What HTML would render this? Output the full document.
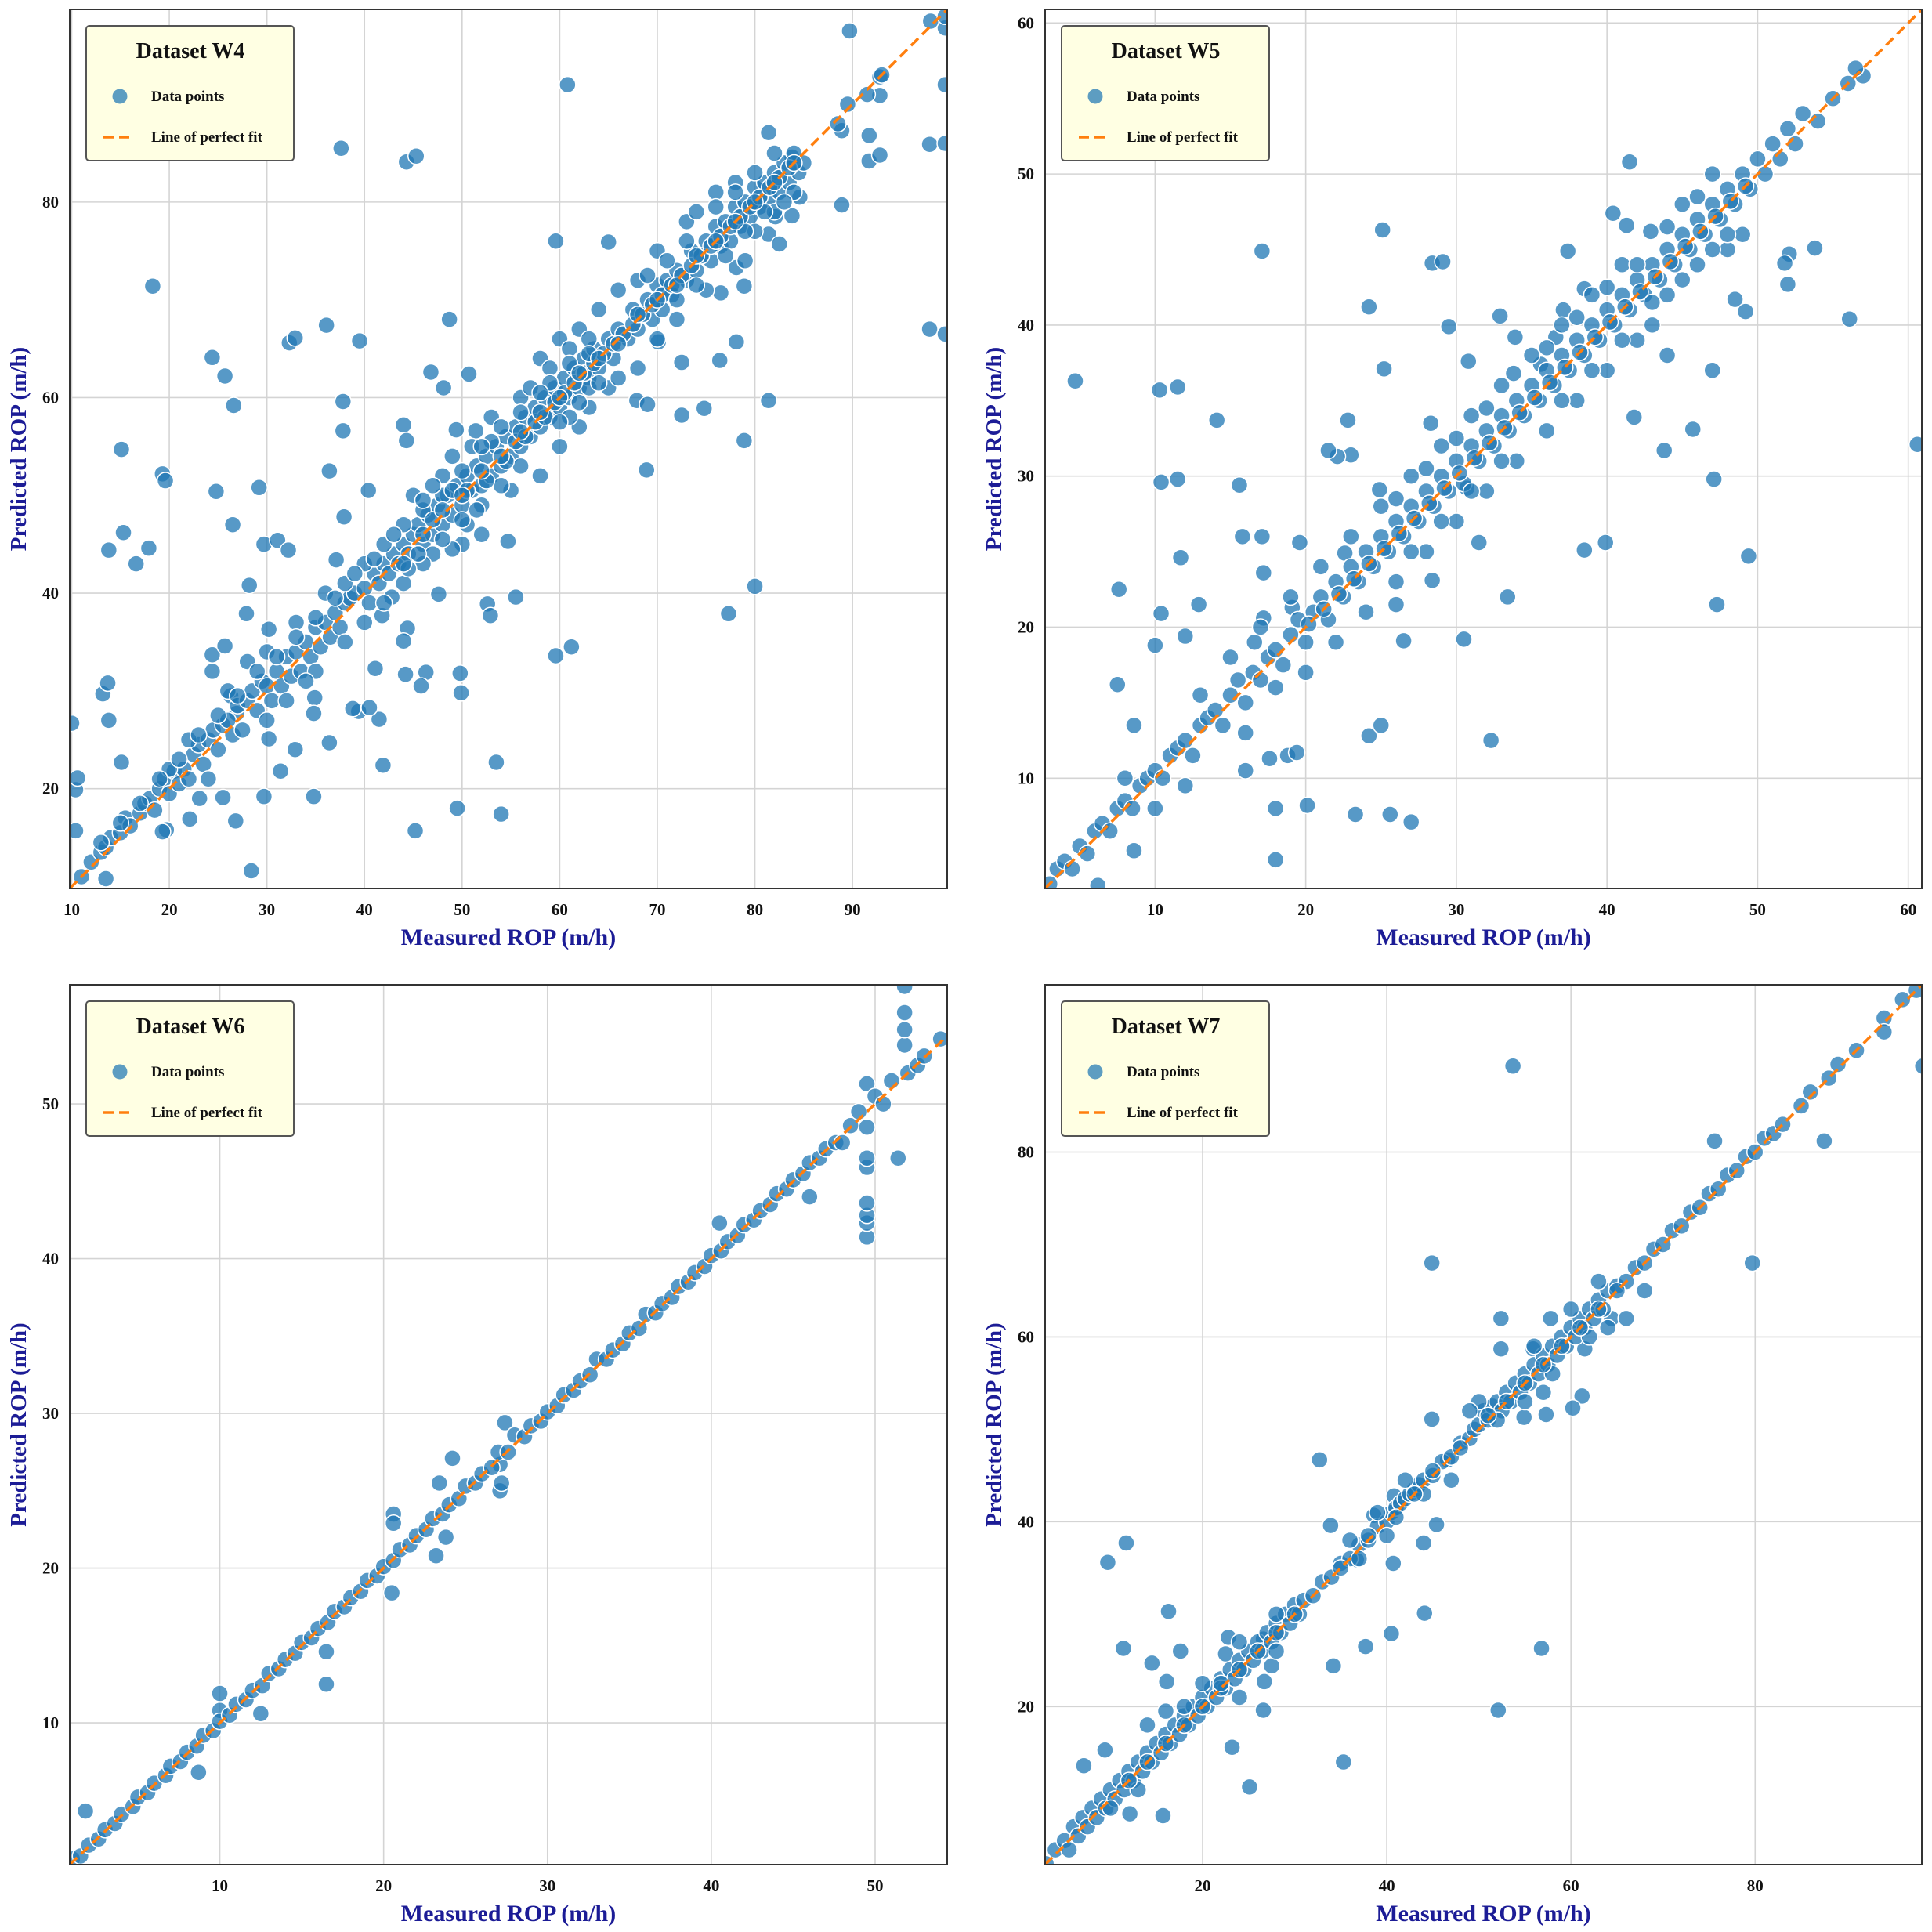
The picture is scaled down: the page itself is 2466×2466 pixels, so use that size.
<!DOCTYPE html>
<html><head><meta charset="utf-8"><style>
html,body{margin:0;padding:0;background:#fff}
svg{display:block}
text{font-family:"Liberation Serif",serif;font-weight:bold}
</style></head><body>
<svg id="fig" width="2466" height="2466" viewBox="0 0 2466 2466" xmlns="http://www.w3.org/2000/svg"></svg>
<script>
// ---------- Data ----------
const w4Range = [9.8, 99.7, 9.8, 99.7];
const w4XTicks = [10,20,30,40,50,60,70,80,90];
const w4YTicks = [20,40,60,80];
const w4Points = [
[89.7,97.5],[60.8,92.0],[37.6,85.5],[44.3,84.1],[45.3,84.7],[88.9,79.7],[97.9,85.9],[99.5,86],[97.9,67],[99.5,66.5],[99.5,92],[99.5,97.8],
[91.7,86.8],[91.7,84.2],[92.8,84.8],[92.8,92.8],[92.8,90.9],[88.9,87.3],[18.3,71.4],[24.4,64.1],[25.7,62.2],[26.6,59.2],[32.3,65.6],[32.9,66.1],
[36.1,67.4],[39.5,65.8],[59.6,76],[65,75.9],[48.7,68],[46.8,62.6],[48.1,61],[50.7,62.4],[15.1,54.7],[19.3,52.2],[19.6,51.5],[24.8,50.4],[26.5,47],
[29.2,50.8],[37.8,59.6],[37.8,56.6],[36.4,52.5],[40.4,50.5],[44,57.2],[44.3,55.6],[49.4,56.7],[51.4,56.6],[15.3,46.2],[13.8,44.4],[16.6,43],[17.9,44.6],
[29.7,45],[31.1,45.4],[32.2,44.4],[37.1,43.4],[37.9,47.8],[54.7,45.3],[55.5,39.6],[47.6,39.9],[80,40.7],[77.3,37.9],[78.9,55.6],[81.4,59.7],
[74.8,58.9],[72.5,63.6],[76.4,63.8],[78.1,65.7],[68.9,52.6],[67.9,59.7],[69,59.3],[59.6,33.6],[61.2,34.5],[52.6,38.9],[52.9,37.7],[53.5,22.7],
[49.5,18],[54,17.4],[45.2,15.7],[44.2,31.7],[46.3,31.9],[45.8,30.5],[49.8,31.8],[49.9,29.8],[44.4,36.4],[44,35.1],[41.1,32.3],[41.5,27.1],[41.9,22.4],
[36.4,24.7],[34.9,29.3],[32.9,24],[31.4,21.8],[34.8,27.7],[30.2,36.3],[30.2,25.1],[29.7,19.2],[28.4,11.6],[34.8,19.2],[25.5,19.1],[26.8,16.7],
[22.1,16.9],[23.1,19],[19.7,15.8],[19.3,15.6],[13.2,29.7],[13.7,30.8],[13.8,27],[10.4,15.7],[10.4,19.9],[10.6,21.1],[10,26.7],[13.5,10.8],[15.1,22.7],
[24.4,33.7],[25.7,34.6],[24.4,32],[28.2,40.8],[27.9,37.9],[26.3,29.5],[26.9,27.7],[39.4,27.9],[38.8,28.2],[40.5,28.3],[41.8,37.7],[42.8,39.6],
[81.4,76.7],[82.1,78.5],[83.8,78.6],[83.8,84.6],[81.4,87.1],[84.6,80.5],[82.5,75.7],[78.1,73.3],[78.9,71.4],[76.5,70.7],[72.5,58.2],[70.1,65.7],
[11,11],[12,12.5],[13,13.5],[13.5,14],[14,15],[15,15.5],[15.5,17],[16,16.2],[17,17.5],[17.5,18.5],[18,19],[18.5,17.8],[19,20],[19.5,21],[20,19.5],[20.5,21.8],
[21,20.5],[21.5,22],[22,21],[22.5,23.5],[23,24.5],[23.5,22.5],[24,25],[24.5,26],[25,24],[25.5,26.5],[26,27],[26.5,25.5],[27,28.5],[27.5,26],[28,29],[28.5,30],
[29,28],[29.5,31],[30,30.5],[30.5,29],[31,32],[31.5,30.5],[32,33.5],[32.5,31.5],[33,34],[33.5,32],[34,35],[34.5,33.5],[35,36.5],[35.5,34.5],[36,37],[36.5,35.5],
[37,38],[37.5,36.5],[38,39],[38.5,39.5],[39,40],[40,40.5],[40.5,39],[41,42],[41.5,41],[42,43],[42.5,42],[43,44],[43.5,43],[44,45],[44.5,44],[45,46],[45.5,47],
[46,45],[46.5,48],[47,46],[47.5,49],[48,47],[48.5,50],[49,48],[49.5,51],[50,49],[50.5,52],[51,50.5],[51.5,53],[52,51],[52.5,54],[53,52],[53.5,55],[54,53],
[54.5,56],[55,54],[55.5,57],[56,55],[56.5,58],[57,56],[57.5,59],[58,57],[58.5,60],[59,58],[59.5,61],[60,59],[60.5,62],[61,60],[61.5,63],[62,61],[62.5,64],
[63,62],[63.5,65],[64,63],[65,66],[65.5,64],[66,67],[67,66],[67.5,69],[68,67],[69,70],[69.5,68],[70,71.5],[70.5,69],[71,72],[71.5,70.5],[72,73],[73,72],
[73.5,75],[74,73],[75,76],[75.5,74],[76,77.5],[76.5,75.5],[77,78],[77.5,76],[78,79.5],[78.5,77.5],[79,80],[79.5,78.5],[80,81.5],[80.5,79.5],[81,82],
[81.5,80.5],[82,83],[82.5,81],[83,84],[83.5,82],[84,85],[84.5,83],[85,84],[88.5,88],[89.5,90],[91.5,91],[93,93],[98,98.5],[99.5,99],
[45,50],[47,44],[48,52],[50,45],[50.5,47],[52,46],[49,44.5],[46,43],[55,50.5],[58,52],[60,55],[62,57],[63,59],[58,64],[60,66],[62,67],[65,61],[66,62],
[68,63],[70,66],[72,68],[70,75],[73,78],[76,81],[78,82],[80,77],[82,79],[84,81],[79,74],[75,71],[35,32],[33,37],[28,33],[26,30],[30,27],[38,35],[40,37],
[42,39],[44,41],[53,58],[56,60],[64,69],[66,71],[68,72],[74,79],[20,22],[24,21],[22,25],[52,49],[54,51],[56,53],[61,58],[63,61],[57,61],[59,63],[61,65],
[63,66],[48,50],[51,55],[54,57],[47,51],[49,54],[44,47],[40,43],[42,45],[36,40],[38,41],[30,34],[32,29],[34,31],
[44.5,42.5],[45.5,44],[46,48.5],[47,47.5],[48,45.5],[49,50.5],[50,47.5],[50.5,50.5],[51.5,48.5],[52.5,51.5],[53,55.5],[54.5,53.5],[55.5,55.5],
[56.5,56],[57.5,57.5],[58.5,58],[59.5,59.5],[60.5,60.5],[61.5,61.5],[62.5,62.5],[63.5,63.5],[64.5,64.5],[65.5,65.5],[66.5,66.5],[67.5,67.5],
[68.5,68.5],[69.5,69.5],[70.5,70.5],[71.5,71.5],[72.5,72.5],[73.5,73.5],[74.5,74.5],[75.5,75.5],[76.5,76.5],[77.5,77.5],[78.5,78.5],[79.5,79.5],
[80.5,80.5],[81.5,81.5],[82.5,82.5],[83.5,83.5],[59,61.5],[61,63.5],[63,64.5],[60,57.5],[62,59.5],[64,61.5],[69,72.5],[71,74],[73,76],[72,70],
[74,71.5],[77,74.5],[79,77],[81,79],[83,80],[76,79.5],[78,81],[80,83],[82,85],[56,58.5],[58,60.5],[52,55],[50,52.5],[46,49.5],[43,46],[41,43.5],
[39,42],[37,39.5],[35,37.5],[33,35.5],[31,33.5],[29,32],[27,29.5],[25,27.5],[23,25.5],[21,23],[19,21],[17,18.5],[15,16.5],[13,14.5],
[44,43],[46,46],[48,48.5],[50,50],[52,52.5],[54,54],[56,56.5],[58,58.5],[60,60],[62,62.5],[64,64],[66,65.5],[68,68.5],[70,70],[72,71.5],[74,74.5],[76,76],
[78,78],[80,80],[82,82],[84,84]
];

const w5Range = [2.7, 60.9, 2.7, 60.9];
const w5XTicks = [10,20,30,40,50,60];
const w5YTicks = [10,20,30,40,50,60];
const w5Points = [
[25.1,46.3],[17.1,44.9],[28.4,44.1],[29.1,44.2],[37.4,44.9],[40.4,47.4],[41.3,46.6],[42.9,46.2],[41.5,50.8],[4.7,36.3],[10.3,35.7],[11.5,35.9],
[14.1,33.7],[23,31.4],[24.9,29.1],[22.8,33.7],[24.2,41.2],[25.2,37.1],[28.3,33.5],[29.5,39.9],[30.8,37.6],[32.9,40.6],[33.9,39.2],[36.6,39.2],
[22.1,31.3],[21.5,31.7],[10.4,29.6],[11.5,29.8],[15.6,29.4],[22.6,24.9],[31.5,25.6],[38.5,25.1],[39.9,25.6],[47.1,29.8],[49.4,24.7],[47.3,21.5],
[56.1,40.4],[53.8,45.1],[52.1,44.7],[60.6,32.1],[41.8,33.9],[43.8,31.7],[45.7,33.1],[48.5,41.7],[49.2,40.9],[7.6,22.5],[10,18.8],[10.4,20.9],
[11.7,24.6],[12,19.4],[12.9,21.5],[7.5,16.2],[8.6,13.5],[8.6,5.2],[6.2,2.9],[16,10.5],[17.6,11.3],[18,4.6],[18.8,11.5],[18,8],[20.1,8.2],[19.4,11.7],
[23.3,7.6],[25.6,7.6],[27,7.1],[24.2,12.8],[25,13.5],[26.5,19.1],[32.3,12.5],[30.5,19.2],[33.4,22],[26,21.5],[28.4,23.1],[16.6,19],[17.2,20.6],
[19.1,21.3],[17.1,26],[19.6,25.6],[15.8,26],[17.2,23.6],[30.7,29.2],[33.8,36.8],[35.6,37.4],[38.5,42.4],[37.1,41],[51.8,44.1],[52,42.7],
[3,3],[3.5,4],[4,4.5],[4.5,4],[5,5.5],[5.5,5],[6,6.5],[6.5,7],[7,6.5],[7.5,8],[8,8.5],[8.5,8],[9,9.5],[9.5,10],[10,10.5],[10.5,10],[11,11.5],[11.5,12],
[12,12.5],[12.5,11.5],[13,13.5],[13.5,14],[14,14.5],[14.5,13.5],[15,15.5],[15.5,16.5],[16,15],[16.5,17],[17,16.5],[17.5,18],[18,18.5],[18.5,17.5],
[19,19.5],[19.5,20.5],[20,19],[20.5,21],[21,22],[21.5,20.5],[22,23],[22.5,22],[23,24],[23.5,23],[24,25],[24.5,24],[25,26],[25.5,25],[26,27],[26.5,26],
[27,28],[27.5,27],[28,29],[28.5,28],[29,30],[29.5,29],[30,31],[30.5,29.5],[31,32],[31.5,31],[32,33],[32.5,32],[33,34],[33.5,33],[34,35],[34.5,34],
[35,36],[35.5,35],[36,37],[36.5,36],[37,38],[37.5,37],[38,39],[38.5,38],[39,40],[39.5,39],[40,41],[40.5,40],[41,42],[41.5,41],[42,43],[42.5,42],
[43,44],[43.5,43],[44,45],[44.5,44],[45,46],[45.5,45],[46,47],[46.5,46],[47,48],[47.5,47],[48,49],[48.5,48],[49,50],[49.5,49],[50,51],[50.5,50],
[51,52],[51.5,51],[52,53],[52.5,52],[53,54],[54,53.5],[55,55],[56,56],[57,56.5],[56.5,57],
[20,17],[22,19],[24,21],[26,23],[28,25],[25,28],[27,30],[29,32],[31,34],[30,27],[32,29],[34,31],[36,33],[35,38],[37,40],[39,42],[41,44],[40,37],
[42,39],[44,42],[46,44],[45,48],[47,50],[48,45],[49,46],[33,36],[38,35],[43,40],[15,18],[17,20],[19,22],[13,15.5],[16,13],[18,16],[10,8],[8,10],
[12,9.5],[21,24],[23,26],[48,46],[44,38],[47,37],
[20.2,20.2],[21.2,21.2],[22.2,22.2],[23.2,23.2],[24.2,24.2],[25.2,25.2],[26.2,26.2],[27.2,27.2],[28.2,28.2],[29.2,29.2],[30.2,30.2],[31.2,31.2],
[32.2,32.2],[33.2,33.2],[34.2,34.2],[35.2,35.2],[36.2,36.2],[37.2,37.2],[38.2,38.2],[39.2,39.2],[40.2,40.2],[41.2,41.2],[42.2,42.2],[43.2,43.2],
[44.2,44.2],[45.2,45.2],[46.2,46.2],[47.2,47.2],[48.2,48.2],[49.2,49.2],[36,38.5],[38,40.5],[40,42.5],[42,44],[44,46.5],[46,48.5],[37,35],[39,37],
[41,39],[43,41.5],[45,43],[47,45],[26,28.5],[28,30.5],[30,32.5],[32,34.5],[27,25],[29,27],[31,29],[33,31]
];

const w6Range = [0.84, 54.4, 0.84, 57.7];
const w6XTicks = [10,20,30,40,50];
const w6YTicks = [10,20,30,40,50];
const w6Points = [
[1.8,4.3],[10,11.9],[10,10.8],[8.7,6.8],[12.5,10.6],[16.5,12.5],[16.5,14.6],[20.6,23.5],[20.6,22.9],[20.5,18.4],[23.4,25.5],[24.2,27.1],[23.8,22],
[23.2,20.8],[27.4,29.4],[27.1,25],[27.2,25.5],[27.1,26.7],[40.5,42.3],[46,44],[49.5,41.4],[49.5,42.3],[49.5,42.8],[49.5,43.6],[49.5,45.9],[49.5,46.5],
[51.4,46.5],[51.8,53.8],[51.8,54.8],[51.8,55.9],[51.8,57.6],[49.5,51.3],[54,54.2],
[1,1.2],[1.5,1.4],[2,2.1],[2.6,2.5],[3,3.1],[3.6,3.5],[4,4.1],[4.7,4.6],[5,5.2],[5.6,5.5],[6,6.1],[6.7,6.6],[7,7.2],[7.6,7.5],[8,8.1],[8.6,8.5],
[9,9.2],[9.6,9.5],[10,10.1],[10.6,10.5],[11,11.2],[11.6,11.5],[12,12.1],[12.6,12.4],[13,13.2],[13.6,13.5],[14,14.1],[14.6,14.5],[15,15.2],
[15.6,15.5],[16,16.1],[16.6,16.5],[17,17.2],[17.6,17.5],[18,18.1],[18.6,18.5],[19,19.2],[19.6,19.5],[20,20.1],[20.6,20.5],[21,21.2],[21.6,21.5],
[22,22.1],[22.6,22.5],[23,23.2],[23.6,23.5],[24,24.1],[24.6,24.5],[25,25.3],[25.6,25.5],[26,26.1],[26.6,26.5],[27,27.5],[27.6,27.5],[28,28.6],
[28.6,28.5],[29,29.2],[29.6,29.5],[30,30.1],[30.6,30.5],[31,31.2],[31.6,31.5],[32,32.1],[32.6,32.5],[33,33.5],[33.6,33.5],[34,34.1],[34.6,34.5],
[35,35.2],[35.6,35.5],[36,36.4],[36.6,36.5],[37,37.1],[37.6,37.5],[38,38.2],[38.6,38.5],[39,39.1],[39.6,39.5],[40,40.2],[40.6,40.5],[41,41.1],
[41.6,41.5],[42,42.2],[42.6,42.5],[43,43.1],[43.6,43.5],[44,44.2],[44.6,44.5],[45,45.1],[45.6,45.5],[46,46.2],[46.6,46.5],[47,47.1],[47.6,47.5],
[48,47.5],[48.5,48.6],[49,49.5],[49.5,48.5],[50,50.5],[50.5,50],[51,51.5],[52,52],[52.6,52.5],[53,53.1]
];

const w7Range = [2.9, 98.1, 2.9, 98.1];
const w7XTicks = [20,40,60,80];
const w7YTicks = [20,40,60,80];
const w7Points = [
[53.7,89.3],[98.2,89.3],[75.6,81.2],[87.5,81.2],[44.9,68],[79.7,68],[52.4,62],[52.4,58.7],[55.9,58.7],[57.8,62],[61.5,58.7],[64.4,62],
[61.2,53.6],[57.3,51.6],[60.2,52.3],[54.9,51.3],[44.9,51.1],[46.6,46.7],[32.7,46.7],[33.9,39.6],[45.4,39.7],[38.6,40.7],[40.8,42.8],[44,37.7],
[36.7,35.9],[40.7,35.5],[44.1,30.1],[34.2,24.4],[37.7,26.5],[40.5,27.9],[56.8,26.3],[52.1,19.6],[35.3,14],[25.1,11.3],[9.7,35.6],[11.7,37.7],
[11.4,26.3],[16.3,30.3],[17.6,26],[14.5,24.7],[15.7,8.2],[12.1,8.4],[23.2,15.6],[16.1,22.7],[7.1,13.6],[9.4,15.3],[26.6,19.6],[26.6,27.3],
[26.7,22.7],[27.5,24.4],[22.5,25.7],[22.8,27.5],
[3,3],[4,4.5],[5,5.5],[5.5,4.5],[6,7],[6.5,6],[7,8],[7.5,7],[8,9],[8.5,8],[9,10],[9.5,9],[10,11],[10.5,10],[11,12],[11.5,11],[12,13],[12.5,12],
[13,14],[13.5,13],[14,15],[14.5,14],[15,16],[15.5,15],[16,17],[16.5,16],[17,18],[17.5,17],[18,19],[18.5,18],[19,20],[19.5,19],[20,21],[20.5,20],
[21,22],[21.5,21],[22,23],[22.5,22],[23,24],[23.5,23],[24,25],[24.5,24],[25,26],[25.5,25],[26,27],[26.5,26],[27,28],[27.5,27],[28,29],[28.5,28],
[29,30],[29.5,29],[30,31],[30.5,30],[31,31.5],[33,33.5],[34,34],[35,35.5],[36,36],[37,37.5],[38,38],[39,39.5],[40,40],[40.5,41],[41,41.5],
[41.5,42],[42,42.5],[42.5,43],[43,43.5],[43.5,44],[44,44.5],[45,45],[46,46.5],[47,47],[48,48.5],[49,49],[49.5,50],[50,50.5],[50.5,52],[51,51],
[51.5,52.5],[52,53],[52.5,52],[53,54],[53.5,53],[54,55],[54.5,54],[55,56],[55.5,55],[56,57],[56.5,56],[57,58],[57.5,57],[58,59],[58.5,58],
[59,60],[59.5,59],[60,61],[60.5,60],[61,62],[61.5,61],[62,63],[62.5,62],[63,64],[63.5,63],[64,65],[65,65.5],[66,66],[67,67.5],[68,68],[69,69.5],
[70,70],[71,71.5],[72,72],[73,73.5],[74,74],[75,75.5],[76,76],[77,77.5],[78,78],[79,79.5],[80,80],[81,81.5],[82,82],[83,83],[85,85],[86,86.5],
[88,88],[89,89.5],[91,91],[94,94.5],[94,93],[96,96.5],[97.5,97.5],
[14,18],[16,19.5],[18,20],[20,22.5],[22,22],[24,27],[10,9],[13,11],[24,21],[28,26],[28,30],[50,53],[49,52],[52,51],[56,59],[58,56],[62,60],[64,61],
[63,66],[40,38.5],[39,41],[42,44.5],[44,43],[47,44.5],[36,38],[37,36],[57,54],[55,53],[60,63],[66,62],[68,65],
[32,32],[35,35],[38,38.5],[41,40.5],[43,43],[45,45.5],[48,48],[51,51.5],[53,53],[55,55],[57,57],[59,59],[61,61],[63,63],[65,65],[20,20],[22,22.5],
[24,24],[26,26],[28,28],[30,30],[16,16],[18,18],[14,14],[12,12]
];

// ---------- Drawing ----------
const NS = 'http://www.w3.org/2000/svg';
const svg = document.getElementById('fig');
function mk(tag, attrs, parent) {
  const e = document.createElementNS(NS, tag);
  for (const k in attrs) e.setAttribute(k, attrs[k]);
  (parent || svg).appendChild(e);
  return e;
}
function drawPanel(id, title, box, range, pts, xTicks, yTicks) {
  const [L, T, R, B] = box;
  const [x0, x1, y0, y1] = range;
  const sx = v => L + (v - x0) / (x1 - x0) * (R - L);
  const sy = v => B - (v - y0) / (y1 - y0) * (B - T);
  const g = mk('g', {});
  
  
  const clipId = 'clip-' + id;
  const cp = mk('clipPath', {id: clipId}, g);
  mk('rect', {x: L, y: T, width: R - L, height: B - T}, cp);
  xTicks.forEach(t => {
    const l = mk('line', {x1: sx(t), x2: sx(t), y1: T, y2: B, stroke: '#d4d4d4', 'stroke-width': 1.6}, g);
    
    
    const tx = mk('text', {x: sx(t), y: B + 34, 'text-anchor': 'middle', 'font-size': 21, fill: '#111'}, g);
    tx.textContent = t;
    
    
  });
  yTicks.forEach(t => {
    const l = mk('line', {x1: L, x2: R, y1: sy(t), y2: sy(t), stroke: '#d4d4d4', 'stroke-width': 1.6}, g);
    
    
    const tx = mk('text', {x: L - 14, y: sy(t) + 7, 'text-anchor': 'end', 'font-size': 21, fill: '#111'}, g);
    tx.textContent = t;
    
    
  });
  const pg = mk('g', {'clip-path': 'url(#' + clipId + ')'}, g);
  
  
  pts.forEach(p => {
    const c = mk('circle', {cx: sx(p[0]), cy: sy(p[1]), r: 10.5, fill: '#1f77b4', 'fill-opacity': 0.75, stroke: '#fff', 'stroke-width': 1.5}, pg);
    
    
  });
  const lo = Math.max(x0, y0);
  const fl = mk('line', {x1: sx(lo), y1: sy(lo), x2: sx(x1), y2: sy(x1), stroke: '#ff7f0e', 'stroke-width': 3.5, 'stroke-dasharray': '13,7', 'clip-path': 'url(#' + clipId + ')'}, g);
  
  
  const fr = mk('rect', {x: L, y: T, width: R - L, height: B - T, fill: 'none', stroke: '#333', 'stroke-width': 2}, g);
  
  
  const xt = mk('text', {x: (L + R) / 2, y: B + 72, 'text-anchor': 'middle', 'font-size': 30, fill: '#1c1c96'}, g);
  xt.textContent = 'Measured ROP (m/h)';
  
  
  const cy = (T + B) / 2, cx = L - 56;
  const yt = mk('text', {x: cx, y: cy, 'text-anchor': 'middle', 'font-size': 29, fill: '#1c1c96', transform: 'rotate(-90 ' + cx + ' ' + cy + ')'}, g);
  yt.textContent = 'Predicted ROP (m/h)';
  
  
  const lg = mk('g', {transform: 'translate(' + (L + 21) + ',' + (T + 21) + ')'}, g);
  
  
  mk('rect', {x: 0, y: 0, width: 265, height: 172, rx: 4, fill: '#ffffe3', stroke: '#555', 'stroke-width': 2}, lg);
  const lt = mk('text', {x: 133, y: 41, 'text-anchor': 'middle', 'font-size': 28, fill: '#111'}, lg);
  lt.textContent = title;
  
  
  const lc = mk('circle', {cx: 43, cy: 90, r: 9.5, fill: '#1f77b4', 'fill-opacity': 0.72}, lg);
  
  
  const l1 = mk('text', {x: 83, y: 96, 'font-size': 19, fill: '#111'}, lg);
  l1.textContent = 'Data points';
  
  
  const ll = mk('line', {x1: 22, x2: 60, y1: 142, y2: 142, stroke: '#ff7f0e', 'stroke-width': 3.5, 'stroke-dasharray': '13,7'}, lg);
  
  
  const l2 = mk('text', {x: 83, y: 148, 'font-size': 19, fill: '#111'}, lg);
  l2.textContent = 'Line of perfect fit';
  
  
}
drawPanel('w4', 'Dataset W4', [89, 12, 1209, 1134], w4Range, w4Points, w4XTicks, w4YTicks);
drawPanel('w5', 'Dataset W5', [1334, 12, 2453, 1134], w5Range, w5Points, w5XTicks, w5YTicks);
drawPanel('w6', 'Dataset W6', [89, 1257, 1209, 2380], w6Range, w6Points, w6XTicks, w6YTicks);
drawPanel('w7', 'Dataset W7', [1334, 1257, 2453, 2380], w7Range, w7Points, w7XTicks, w7YTicks);
</script>
</body></html>
